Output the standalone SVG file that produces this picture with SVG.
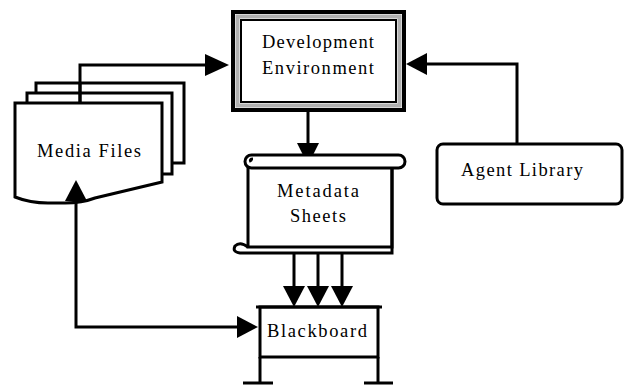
<svg xmlns="http://www.w3.org/2000/svg" width="624" height="385" viewBox="0 0 624 385">
<style>
.ln{fill:none;stroke:#000;stroke-width:3;stroke-linejoin:miter}
.box{fill:#fff;stroke:#000;stroke-width:3}
.ah{fill:#000;stroke:none}
text{font-family:"Liberation Serif","Times New Roman",serif;font-size:18.5px;fill:#000;text-anchor:middle}
</style>
<rect width="624" height="385" fill="#fff"/>
<g id="connectors">
  <polyline class="ln" points="80,103 80,65 210,65"/>
  <polygon class="ah" points="229,65 205,54 205,76"/>
  <polyline class="ln" points="517,144 517,64 424,64"/>
  <polygon class="ah" points="406,64 427,53 427,75"/>
  <line class="ln" x1="308" y1="111" x2="308" y2="148"/>
  <polygon class="ah" points="308,165 297,143 319,143"/>
  <line class="ln" x1="294" y1="253" x2="294" y2="290"/>
  <polygon class="ah" points="294,307 283,286 305,286"/>
  <line class="ln" x1="318" y1="253" x2="318" y2="290"/>
  <polygon class="ah" points="318,307 307,286 329,286"/>
  <line class="ln" x1="342" y1="253" x2="342" y2="290"/>
  <polygon class="ah" points="342,307 331,286 353,286"/>
  <polyline class="ln" points="76,198 76,327 240,327"/>
  <polygon class="ah" points="258,327 237,316 237,338"/>
</g>
<g id="media-files">
  <polyline class="ln" points="36,93 36,83 184,83 184,163 172,163"/>
  <polyline class="ln" points="27,103 27,93 172,93 172,174 163,174"/>
  <line class="ln" x1="80" y1="83" x2="80" y2="103"/>
  <path class="box" d="M15,103 H162 V182 L95,198 Q82,203 65,203 L48,203 Q30,203 15,197 Z"/>
  <polygon class="ah" points="76,180 65,201 87,201"/>
  <text x="89" y="157" textLength="104" lengthAdjust="spacing">Media Files</text>
</g>
<g id="development-environment">
  <rect x="233" y="12" width="171" height="98" fill="#fff" stroke="#000" stroke-width="4"/>
  <rect x="237.5" y="16.5" width="162" height="89" fill="none" stroke="#b0b0b0" stroke-width="4"/>
  <rect x="241" y="20" width="155" height="82" fill="none" stroke="#000" stroke-width="2"/>
  <text x="318" y="48" textLength="112" lengthAdjust="spacing">Development</text>
  <text x="318" y="74" textLength="112" lengthAdjust="spacing">Environment</text>
</g>
<g id="agent-library">
  <rect class="box" x="437" y="144" width="185" height="60" rx="6"/>
  <text x="522" y="176" textLength="122" lengthAdjust="spacing">Agent Library</text>
</g>
<g id="metadata-sheets">
  <path class="box" d="M248,162 V247 H392 V162 Z"/>
  <path class="ln" d="M248,247 Q240,241 235,246 Q232,252 240,253 H392 V162"/>
  <rect class="box" x="245" y="155" width="160" height="13" rx="6.5"/>
  <path class="ln" d="M251,162 Q249,159 253,159" stroke-width="2"/>
  <text x="318" y="197" textLength="82" lengthAdjust="spacing">Metadata</text>
  <text x="318" y="222" textLength="56" lengthAdjust="spacing">Sheets</text>
</g>
<g id="blackboard">
  <rect class="box" x="260" y="307" width="118" height="50"/>
  <line class="ln" x1="256" y1="307" x2="382" y2="307"/>
  <line class="ln" x1="260" y1="357" x2="260" y2="384"/>
  <line class="ln" x1="378" y1="357" x2="378" y2="384"/>
  <line class="ln" x1="243" y1="383" x2="273" y2="383"/>
  <line class="ln" x1="364" y1="383" x2="393" y2="383"/>
  <text x="317" y="337" textLength="100" lengthAdjust="spacing">Blackboard</text>
</g>
</svg>
